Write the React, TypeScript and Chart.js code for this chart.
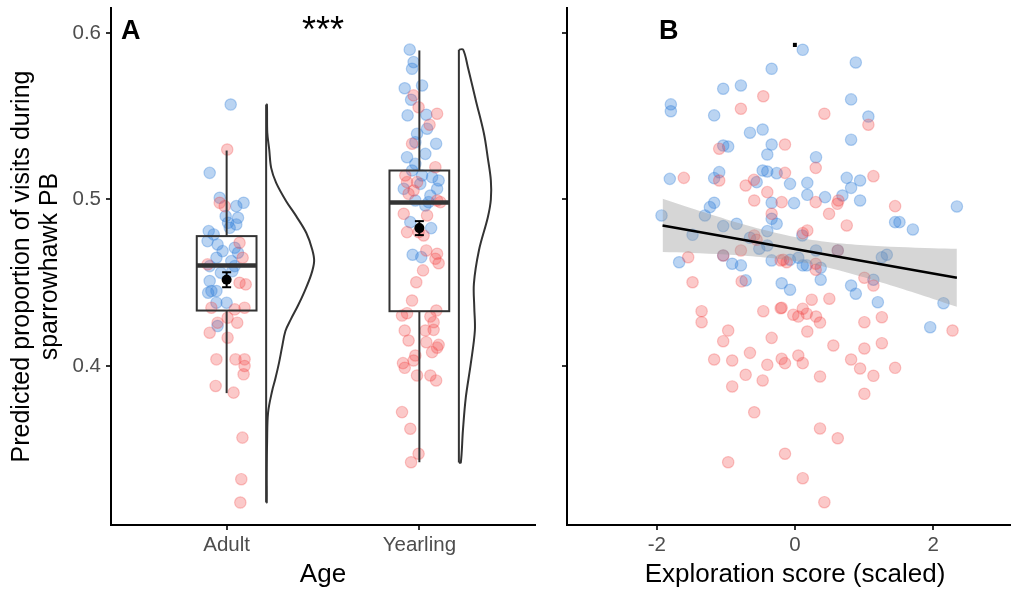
import React, { useEffect, useRef } from "react";
import { Chart, registerables } from "chart.js";
Chart.register(...registerables);

const FONT = "'Liberation Sans', Arial, Helvetica, sans-serif";

// ---------- shared y axis ----------
const Y_MIN = 0.3045;
const Y_MAX = 0.615;
const yTicks = [0.4, 0.5, 0.6];

// ---------- Panel A data ----------
const ageCategories = ["Adult", "Yearling"];
const boxQ1 = [0.4333, 0.4329];
const boxMedian = [0.4604, 0.4982];
const boxQ3 = [0.478, 0.5174];
const whiskerLow = [0.3837, 0.3422];
const whiskerHigh = [0.5294, 0.5895];
const groupMean = [0.4518, 0.4828];
const groupSE = [0.0045, 0.0042];

const adultViolinY = [0.557, 0.54, 0.53, 0.519, 0.51, 0.499, 0.49, 0.48, 0.47, 0.463, 0.455, 0.445, 0.436, 0.428, 0.421, 0.411, 0.402, 0.392, 0.385, 0.372, 0.355, 0.335, 0.318];
const adultViolinW = [0.004, 0.006, 0.016, 0.026, 0.052, 0.104, 0.156, 0.208, 0.239, 0.249, 0.234, 0.2, 0.164, 0.128, 0.1, 0.082, 0.067, 0.047, 0.031, 0.01, 0.005, 0.003, 0.003];
const yearlingViolinY = [0.59, 0.5793, 0.5595, 0.5396, 0.525, 0.5114, 0.5, 0.4892, 0.4694, 0.4495, 0.435, 0.4213, 0.4015, 0.3811, 0.3613, 0.342];
const yearlingViolinW = [0.022, 0.047, 0.088, 0.13, 0.15, 0.166, 0.166, 0.15, 0.104, 0.078, 0.08, 0.083, 0.062, 0.036, 0.021, 0.01];

const adultBlue = [
  [1.021, 0.557], [0.912, 0.516], [0.964, 0.501], [1.05, 0.496], [1.088, 0.498], [0.995, 0.49], [1.059, 0.489], [1.007, 0.486],
  [1.05, 0.485], [1.016, 0.483], [0.907, 0.481], [0.933, 0.479], [0.901, 0.475], [0.953, 0.473], [0.979, 0.469], [1.042, 0.471],
  [1.059, 0.468], [0.947, 0.465], [1.024, 0.463], [0.912, 0.46], [1.042, 0.46], [0.912, 0.451], [0.921, 0.445], [0.904, 0.444],
  [0.947, 0.445], [0.947, 0.438], [1.0, 0.438], [0.953, 0.424], [1.03, 0.457], [0.97, 0.456],
];
const adultRed = [
  [1.003, 0.53], [0.964, 0.498], [0.99, 0.496], [1.067, 0.474], [1.083, 0.465], [0.901, 0.461], [1.067, 0.45], [1.099, 0.449],
  [0.921, 0.435], [1.042, 0.434], [1.093, 0.435], [1.005, 0.429], [1.055, 0.426], [0.953, 0.426], [0.912, 0.42], [1.005, 0.417],
  [0.947, 0.404], [1.046, 0.404], [1.093, 0.404], [1.093, 0.4], [1.088, 0.395], [0.943, 0.388], [1.036, 0.384], [1.082, 0.357],
  [1.076, 0.332], [1.071, 0.318],
];
const yearlingBlue = [
  [1.95, 0.59], [1.97, 0.5825], [1.962, 0.5785], [2.014, 0.5685], [1.924, 0.5668], [1.957, 0.5599], [1.939, 0.5505], [2.036, 0.5509],
  [2.04, 0.5425], [1.988, 0.5395], [1.979, 0.5344], [2.087, 0.5335], [2.031, 0.5274], [1.936, 0.5254], [1.979, 0.5214], [1.962, 0.5174],
  [2.014, 0.5144], [2.066, 0.5134], [2.1, 0.5114], [2.005, 0.5094], [1.919, 0.5064], [2.092, 0.5064], [2.057, 0.5024], [1.979, 0.4994],
  [2.031, 0.4964], [2.048, 0.4984], [1.953, 0.4864], [2.061, 0.4828], [1.965, 0.4668], [2.01, 0.4654],
];
const yearlingRed = [
  [1.97, 0.5625], [1.996, 0.5554], [2.092, 0.5515], [2.053, 0.5449], [1.962, 0.5335], [2.083, 0.5194], [1.927, 0.5144], [1.936, 0.5104],
  [1.988, 0.5104], [1.97, 0.5054], [1.944, 0.5034], [2.092, 0.4994], [2.109, 0.4984], [1.919, 0.4914], [2.04, 0.4904], [1.936, 0.4804],
  [1.996, 0.4804], [2.022, 0.4784], [2.036, 0.4694], [2.092, 0.4674], [2.083, 0.4644], [2.1, 0.4617], [2.019, 0.4574], [1.984, 0.4503],
  [1.962, 0.4393], [1.91, 0.4303], [1.936, 0.4317], [2.088, 0.4333], [2.057, 0.4297], [2.074, 0.4263], [1.924, 0.4213], [2.031, 0.4213],
  [2.074, 0.4217], [1.944, 0.4153], [2.036, 0.4143], [2.1, 0.4127], [2.066, 0.4083], [2.092, 0.411], [1.979, 0.4063], [1.915, 0.4017],
  [1.924, 0.3989], [1.97, 0.4033], [1.988, 0.3943], [2.057, 0.3943], [2.087, 0.3913], [1.91, 0.3723], [1.953, 0.3623], [1.996, 0.3473],
  [1.957, 0.3422],
];

// ---------- Panel B data ----------
const explorationTicks = [-2, 0, 2];
const explorationBlue = [
  [0.112, 0.5899], [0.88, 0.5823], [0.812, 0.5601], [1.062, 0.5498], [0.812, 0.5359], [0.304, 0.5254], [-0.072, 0.5094], [0.178, 0.51],
  [0.749, 0.513], [0.942, 0.5114], [0.812, 0.507], [0.178, 0.5028], [0.435, 0.5014], [0.686, 0.5024], [-0.014, 0.4978], [0.942, 0.4994],
  [1.449, 0.4864], [1.512, 0.4864], [1.706, 0.482], [2.343, 0.4958], [0.106, 0.4784], [0.304, 0.4694], [0.619, 0.4694], [1.257, 0.4653],
  [1.329, 0.4668], [-0.072, 0.4638], [0.048, 0.465], [0.112, 0.4604], [0.17, 0.4604], [0.372, 0.459], [0.372, 0.4518], [1.135, 0.4518],
  [0.812, 0.4483], [0.88, 0.4434], [-0.072, 0.4458], [-0.193, 0.4497], [1.199, 0.4383], [2.149, 0.4377], [1.957, 0.4233],
  [-0.338, 0.5785], [-1.039, 0.5665], [-0.783, 0.5685], [-1.797, 0.5571], [-1.797, 0.553], [-1.17, 0.5505], [-0.652, 0.5401], [-0.468, 0.542],
  [-1.039, 0.5324], [-0.967, 0.5318], [-0.338, 0.533], [-0.401, 0.527], [-1.812, 0.5124], [-1.17, 0.5128], [-1.097, 0.5164], [-0.555, 0.5104],
  [-0.468, 0.5174], [-0.401, 0.5168], [-0.265, 0.5158], [-0.338, 0.498], [-1.17, 0.498], [-1.232, 0.4954], [-1.932, 0.4904], [-1.304, 0.4904],
  [-0.338, 0.4884], [-0.265, 0.4854], [-1.483, 0.4788], [-1.039, 0.484], [-0.845, 0.4854], [-0.652, 0.477], [-0.401, 0.481], [-0.401, 0.4724],
  [-0.517, 0.4704], [-1.039, 0.4664], [-1.677, 0.4623], [-0.909, 0.4614], [-0.783, 0.4604], [-0.338, 0.4634], [-0.714, 0.4514],
];
const explorationRed = [
  [0.425, 0.5515], [1.062, 0.5449], [-0.145, 0.533], [0.3, 0.519], [-0.145, 0.516], [1.135, 0.514], [0.628, 0.4994], [0.613, 0.4974],
  [0.3, 0.4984], [-0.193, 0.4984], [0.493, 0.4914], [1.449, 0.496], [0.749, 0.4844], [0.178, 0.4814], [0.112, 0.4798], [0.619, 0.4694],
  [-0.17, 0.4638], [-0.12, 0.4623], [0.3, 0.4614], [0.3, 0.4578], [1.004, 0.453], [1.135, 0.4483], [0.242, 0.4398], [0.497, 0.4404],
  [-0.193, 0.435], [0.112, 0.4344], [-0.025, 0.4308], [0.048, 0.4297], [0.17, 0.4314], [0.304, 0.4297], [0.362, 0.4261], [1.004, 0.4263],
  [1.257, 0.4293], [2.28, 0.4213], [0.178, 0.4207], [0.555, 0.4123], [1.004, 0.4105], [1.257, 0.4137], [-0.193, 0.4043], [-0.145, 0.4017],
  [0.048, 0.4063], [0.112, 0.4017], [0.812, 0.4039], [0.942, 0.3985], [1.135, 0.3941], [1.449, 0.3989], [0.362, 0.3937], [1.004, 0.3833],
  [0.362, 0.3625], [0.619, 0.3566], [-0.145, 0.3473], [0.112, 0.3326], [0.425, 0.3182],
  [-1.483, 0.4503], [-0.772, 0.4508], [-1.352, 0.4329], [-1.352, 0.4263], [-0.967, 0.4213], [-1.039, 0.4149], [-0.459, 0.4329], [-0.207, 0.4347],
  [-0.338, 0.4169], [-0.652, 0.4079], [-1.17, 0.4039], [-0.909, 0.4033], [-0.401, 0.4007], [-0.714, 0.3947], [-0.468, 0.3913], [-0.909, 0.3877],
  [-0.59, 0.3722], [-0.967, 0.3422],
  [-0.459, 0.562], [-0.783, 0.5545], [-1.097, 0.5305], [-1.609, 0.513], [-1.097, 0.5114], [-0.714, 0.5084], [-0.594, 0.5118], [-0.401, 0.5044],
  [-0.59, 0.4994], [-0.338, 0.4914], [-0.59, 0.4784], [-0.555, 0.4758], [-0.783, 0.4694], [-1.039, 0.4664], [-1.546, 0.4653], [-0.207, 0.4634],
];
const fitX = [-1.917, 2.343];
const fitY = [0.4844, 0.453];
const bandX = [-1.917, -1.5, -1, -0.5, 0, 0.5, 1, 1.5, 2, 2.343];
const bandLow = [0.4684, 0.4679, 0.467, 0.4655, 0.4631, 0.4589, 0.4533, 0.447, 0.4403, 0.4356];
const bandHigh = [0.5004, 0.4947, 0.4882, 0.4823, 0.4775, 0.4743, 0.4725, 0.4714, 0.4707, 0.4704];

// ---------- styles ----------
const BLUE = "rgba(45,125,215,0.33)";
const RED = "rgba(240,70,70,0.29)";
const BOX_HALF = 0.155;
const VIOLIN_OFFSET = 0.205;
const DARK = "#333333";

const toXY = (arr: number[][]) => arr.map(([x, y]) => ({ x, y }));
const pts = (data: number[][], color: string) => ({
  type: "scatter" as const,
  data: toXY(data),
  backgroundColor: color,
  borderColor: color,
  borderWidth: 1.2,
  pointRadius: 5.7,
  pointHoverRadius: 5.7,
  order: 5,
});

function violinDatasets(center: number, ys: number[], ws: number[]) {
  const base = center + VIOLIN_OFFSET;
  const top = ys[0];
  const bottom = ys[ys.length - 1];
  const curve = [{ x: base, y: top }, ...ys.map((v, i) => ({ x: base + ws[i], y: v })), { x: base, y: bottom }];
  return [
    { type: "line" as const, data: [{ x: base, y: top }, { x: base, y: bottom }], borderColor: DARK, borderWidth: 2, pointRadius: 0, tension: 0, fill: false, order: 4 },
    { type: "line" as const, data: curve, borderColor: DARK, borderWidth: 2, pointRadius: 0, tension: 0.35, fill: false, order: 4 },
  ];
}

function yScale(showLabels: boolean) {
  return {
    type: "linear" as const,
    min: Y_MIN,
    max: Y_MAX,
    afterBuildTicks: (s: any) => {
      s.ticks = yTicks.map((v) => ({ value: v }));
    },
    afterFit: (s: any) => {
      s.width = showLabels ? 111 : 22;
      s.paddingTop = 0;
      s.paddingBottom = 0;
    },
    grid: { display: true, drawOnChartArea: false, drawTicks: true, tickLength: 5, color: DARK, lineWidth: 2 },
    border: { display: true, color: "#000", width: 2 },
    ticks: {
      color: showLabels ? "#4d4d4d" : "rgba(0,0,0,0)",
      font: { family: FONT, size: 20.5 },
      padding: 5,
      callback: (v: any) => Number(v).toFixed(1),
    },
    title: showLabels
      ? {
          display: true,
          text: ["Predicted proportion of visits during", "sparrowhawk PB"],
          color: "#000",
          font: { family: FONT, size: 25, lineHeight: 1.12 },
          padding: { top: 8, bottom: 0 },
        }
      : { display: false },
  };
}

function xScale(min: number, max: number, ticks: number[], label: (v: number) => string, title: string) {
  return {
    type: "linear" as const,
    min,
    max,
    afterBuildTicks: (s: any) => {
      s.ticks = ticks.map((v) => ({ value: v }));
    },
    afterFit: (s: any) => {
      s.height = 64;
      s.paddingLeft = 0;
      s.paddingRight = 0;
    },
    grid: { display: true, drawOnChartArea: false, drawTicks: true, tickLength: 5, color: DARK, lineWidth: 2 },
    border: { display: true, color: "#000", width: 2 },
    ticks: { color: "#4d4d4d", font: { family: FONT, size: 20.5 }, padding: 3, maxRotation: 0, callback: (v: any) => label(Number(v)) },
    title: { display: true, text: title, color: "#000", font: { family: FONT, size: 26, lineHeight: 1.1 }, padding: { top: 0, bottom: 0 } },
  };
}

const panelAPlugin = {
  id: "panelAExtras",
  afterDatasetsDraw(chart: any) {
    const { ctx, scales, chartArea } = chart;
    const x = scales.x;
    const y = scales.y;
    ctx.save();
    ctx.strokeStyle = DARK;
    ctx.lineCap = "butt";
    const line = (x1: number, y1: number, x2: number, y2: number) => {
      ctx.beginPath();
      ctx.moveTo(x1, y1);
      ctx.lineTo(x2, y2);
      ctx.stroke();
    };
    for (let i = 0; i < ageCategories.length; i++) {
      const c = i + 1;
      const xl = x.getPixelForValue(c - BOX_HALF);
      const xr = x.getPixelForValue(c + BOX_HALF);
      const xc = x.getPixelForValue(c);
      const yq1 = y.getPixelForValue(boxQ1[i]);
      const yq3 = y.getPixelForValue(boxQ3[i]);
      const ym = y.getPixelForValue(boxMedian[i]);
      ctx.strokeStyle = DARK;
      ctx.lineWidth = 2;
      line(xc, yq3, xc, y.getPixelForValue(whiskerHigh[i]));
      line(xc, yq1, xc, y.getPixelForValue(whiskerLow[i]));
      ctx.strokeRect(xl, yq3, xr - xl, yq1 - yq3);
      ctx.lineWidth = 4.5;
      line(xl, ym, xr, ym);
      // mean and SE
      const yMean = y.getPixelForValue(groupMean[i]);
      const yHi = y.getPixelForValue(groupMean[i] + groupSE[i]);
      const yLo = y.getPixelForValue(groupMean[i] - groupSE[i]);
      ctx.strokeStyle = "#000";
      ctx.lineWidth = 2;
      line(xc, yHi, xc, yLo);
      line(xc - 4.5, yHi, xc + 4.5, yHi);
      line(xc - 4.5, yLo, xc + 4.5, yLo);
      ctx.fillStyle = "#000";
      ctx.beginPath();
      ctx.arc(xc, yMean, 5, 0, Math.PI * 2);
      ctx.fill();
    }
    ctx.fillStyle = "#000";
    ctx.font = `bold 27px ${FONT}`;
    ctx.textAlign = "left";
    ctx.textBaseline = "alphabetic";
    ctx.fillText("A", chartArea.left + 10, chartArea.top + 31);
    ctx.font = `36px ${FONT}`;
    ctx.textAlign = "center";
    ctx.fillText("***", x.getPixelForValue(1.5), chartArea.top + 34);
    ctx.restore();
  },
};

const panelBPlugin = {
  id: "panelBExtras",
  afterDatasetsDraw(chart: any) {
    const { ctx, scales, chartArea } = chart;
    ctx.save();
    ctx.fillStyle = "#000";
    ctx.font = `bold 27px ${FONT}`;
    ctx.textAlign = "left";
    ctx.textBaseline = "alphabetic";
    ctx.fillText("B", chartArea.left + 92, chartArea.top + 31);
    ctx.font = `bold 28px ${FONT}`;
    ctx.textAlign = "center";
    ctx.fillText(".", scales.x.getPixelForValue(0), chartArea.top + 39);
    ctx.restore();
  },
};

export default function App() {
  const refA = useRef<HTMLCanvasElement>(null);
  const refB = useRef<HTMLCanvasElement>(null);

  useEffect(() => {
    const common = {
      responsive: false,
      maintainAspectRatio: false,
      animation: false as const,
      devicePixelRatio: 1,
      events: [] as any[],
      plugins: { legend: { display: false }, tooltip: { enabled: false } },
    };

    const chartA = new Chart(refA.current as HTMLCanvasElement, {
      type: "scatter",
      data: {
        datasets: [
          ...violinDatasets(1, adultViolinY, adultViolinW),
          ...violinDatasets(2, yearlingViolinY, yearlingViolinW),
          pts(adultRed, RED),
          pts(adultBlue, BLUE),
          pts(yearlingRed, RED),
          pts(yearlingBlue, BLUE),
        ] as any,
      },
      options: {
        ...common,
        layout: { padding: { left: 0, top: 8, right: 10, bottom: 0 } },
        scales: {
          x: xScale(0.4, 2.6, [1, 2], (v) => ageCategories[Math.round(v) - 1] ?? "", "Age"),
          y: yScale(true),
        },
      } as any,
      plugins: [panelAPlugin],
    });

    const chartB = new Chart(refB.current as HTMLCanvasElement, {
      type: "scatter",
      data: {
        datasets: [
          pts(explorationRed, RED),
          pts(explorationBlue, BLUE),
          {
            type: "line",
            data: bandX.map((x, i) => ({ x, y: bandHigh[i] })),
            borderWidth: 0,
            borderColor: "rgba(0,0,0,0)",
            backgroundColor: "rgba(153,153,153,0.4)",
            pointRadius: 0,
            tension: 0.3,
            fill: "+1",
            order: 2,
          },
          {
            type: "line",
            data: bandX.map((x, i) => ({ x, y: bandLow[i] })),
            borderWidth: 0,
            borderColor: "rgba(0,0,0,0)",
            pointRadius: 0,
            tension: 0.3,
            fill: false,
            order: 2,
          },
          {
            type: "line",
            data: fitX.map((x, i) => ({ x, y: fitY[i] })),
            borderColor: "#000",
            borderWidth: 2.4,
            pointRadius: 0,
            fill: false,
            order: 1,
          },
        ] as any,
      },
      options: {
        ...common,
        layout: { padding: { left: 0, top: 8, right: 12, bottom: 0 } },
        scales: {
          x: xScale(-3.3, 3.3, explorationTicks, (v) => String(v), "Exploration score (scaled)"),
          y: yScale(false),
        },
      } as any,
      plugins: [panelBPlugin],
    });

    return () => {
      chartA.destroy();
      chartB.destroy();
    };
  }, []);

  return (
    <div style={{ position: "fixed", left: 0, top: 0, width: 1011, height: 589, overflow: "hidden", background: "#fff" }}>
      <canvas ref={refA} width={545} height={589} style={{ position: "absolute", left: 0, top: 0, width: 545, height: 589 }} />
      <canvas ref={refB} width={490} height={589} style={{ position: "absolute", left: 545, top: 0, width: 490, height: 589 }} />
    </div>
  );
}
